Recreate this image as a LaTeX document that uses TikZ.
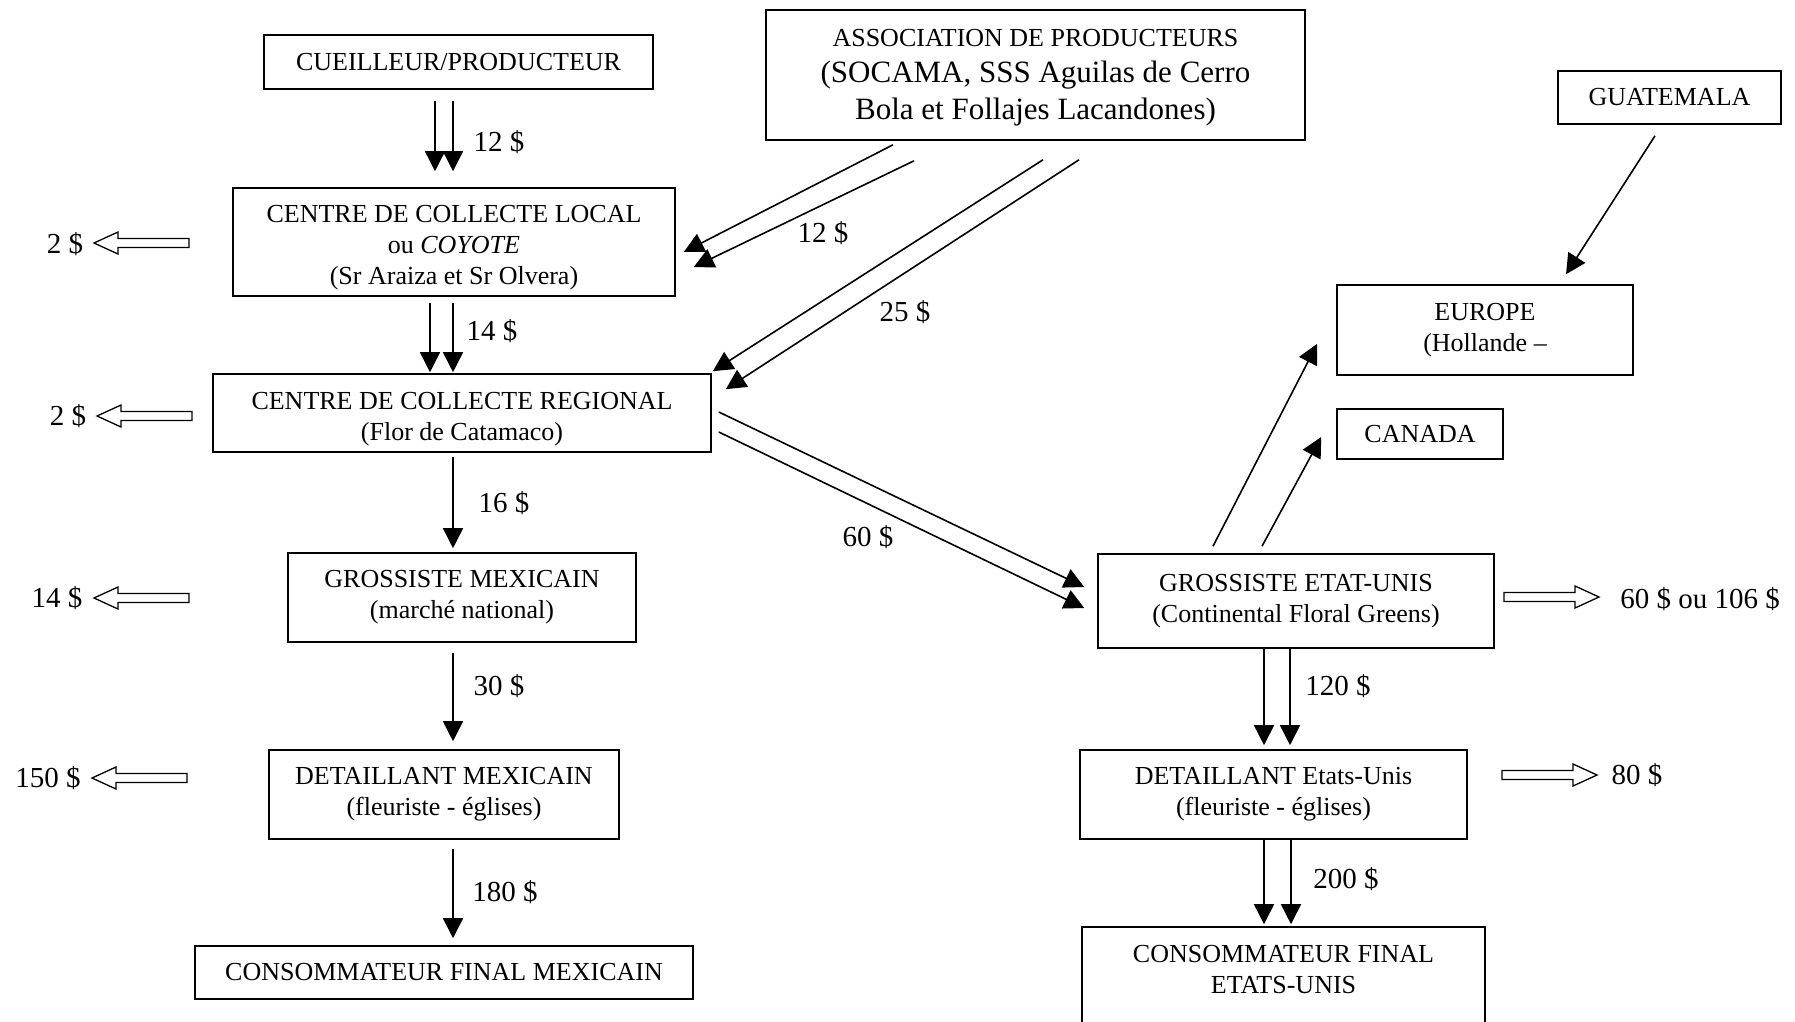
\documentclass[tikz,border=0pt]{standalone}
\usepackage{fontspec}
\setmainfont{Liberation Serif}
\usetikzlibrary{arrows.meta,calc}
\begin{document}
\begin{tikzpicture}[x=1pt,y=-1pt,
  box/.style={draw,line width=1.6pt,inner sep=0pt,align=center,font=\fontsize{26}{31}\selectfont},
  boxtext/.style={inner sep=0pt,align=center,font=\fontsize{26}{31}\selectfont},
  lab/.style={inner sep=0pt,font=\fontsize{29}{34}\selectfont},
  arr/.style={line width=1.6pt,-{Triangle[length=20pt,width=20pt]}},
  hollowL/.pic={\draw[line width=1.3pt,line join=miter] (0pt,-4.5pt) -- (-71pt,-4.5pt) -- (-71pt,-11pt) -- (-95pt,0pt) -- (-71pt,11pt) -- (-71pt,4.5pt) -- (0pt,4.5pt) -- cycle;},
  hollowR/.pic={\draw[line width=1.3pt,line join=miter] (0pt,-4.5pt) -- (71pt,-4.5pt) -- (71pt,-11pt) -- (95pt,0pt) -- (71pt,11pt) -- (71pt,4.5pt) -- (0pt,4.5pt) -- cycle;}
]
\useasboundingbox (0,0) rectangle (1795,1021);
% boxes
\node[box,minimum width=389pt,minimum height=54pt] (cueil) at (458.5,62) {CUEILLEUR/PRODUCTEUR};
\node[box,minimum width=442pt,minimum height=108pt] (local) at (454,242) {};
\node[boxtext] (localt) at (454,248) {CENTRE DE COLLECTE LOCAL\\ou \textit{COYOTE}\\(Sr Araiza et Sr Olvera)};
\node[box,minimum width=539pt,minimum height=130pt] (assoc) at (1035.5,75) {};
\node[boxtext] (assoct) at (1035.5,77.5) {ASSOCIATION DE PRODUCTEURS\\[5pt]\fontsize{31}{37}\selectfont (SOCAMA, SSS Aguilas de Cerro\\[6pt]\fontsize{31}{37}\selectfont Bola et Follajes Lacandones)};
\node[box,minimum width=498pt,minimum height=78pt] (reg) at (462,413) {};
\node[boxtext] (regt) at (462,419) {CENTRE DE COLLECTE REGIONAL\\(Flor de Catamaco)};
\node[box,minimum width=348pt,minimum height=89pt] (gmex) at (462,597.5) {GROSSISTE MEXICAIN\\(marché national)};
\node[box,minimum width=350pt,minimum height=89pt] (dmex) at (444,794.5) {DETAILLANT MEXICAIN\\(fleuriste - églises)};
\node[box,minimum width=498pt,minimum height=53pt] (cmex) at (444,972.5) {CONSOMMATEUR FINAL MEXICAIN};
\node[box,minimum width=396pt,minimum height=94pt] (gus) at (1296,601) {GROSSISTE ETAT-UNIS\\(Continental Floral Greens)};
\node[box,minimum width=387pt,minimum height=89pt] (dus) at (1273.5,794.5) {DETAILLANT Etats-Unis\\(fleuriste - églises)};
\node[box,minimum width=403pt,minimum height=108pt] (cus) at (1283.5,981) {};
\node[boxtext] (cust) at (1283.5,970) {CONSOMMATEUR FINAL\\ETATS-UNIS};
\node[box,minimum width=223pt,minimum height=53pt] (guat) at (1669.5,97.5) {GUATEMALA};
\node[box,minimum width=296pt,minimum height=90pt] (europe) at (1485,330) {EUROPE\\(Hollande –};
\node[box,minimum width=166pt,minimum height=50pt] (canada) at (1420,434) {CANADA};
% vertical arrows
\draw[arr] ($(cueil.south)+(-23.5,11)$) -- ($(cueil.south|-local.north)+(-23.5,-16)$);
\draw[arr] ($(cueil.south)+(-5.5,11)$) -- ($(cueil.south|-local.north)+(-5.5,-16)$);
\draw[arr] ($(local.south)+(-24,6)$) -- ($(local.south|-reg.north)+(-24,-1)$);
\draw[arr] ($(local.south)+(-1,6)$) -- ($(local.south|-reg.north)+(-1,-1)$);
\draw[arr] ($(reg.south)+(-9,4)$) -- ($(reg.south|-gmex.north)+(-9,-4)$);
\draw[arr] ($(gmex.south)+(-9,10)$) -- ($(gmex.south|-dmex.north)+(-9,-8)$);
\draw[arr] ($(dmex.south)+(9,9)$) -- ($(dmex.south|-cmex.north)+(9,-7)$);
\draw[arr] ($(gus.south)+(-32,0)$) -- ($(gus.south|-dus.north)+(-32,-4)$);
\draw[arr] ($(gus.south)+(-6,0)$) -- ($(gus.south|-dus.north)+(-6,-4)$);
\draw[arr] ($(dus.south)+(-9.5,0)$) -- ($(dus.south|-cus.north)+(-9.5,-2)$);
\draw[arr] ($(dus.south)+(17.5,0)$) -- ($(dus.south|-cus.north)+(17.5,-2)$);
% diagonal arrows
\draw[arr] ($(assoc.south)+(-142.5,4)$) -- ($(local.east)+(8,10)$);
\draw[arr] ($(assoc.south)+(-121.5,20)$) -- ($(local.east)+(18,25)$);
\draw[arr] ($(assoc.south)+(7.5,19)$) -- ($(reg.north east)+(1,-2)$);
\draw[arr] ($(assoc.south)+(43.5,19)$) -- ($(reg.north east)+(14,16)$);
\draw[arr] ($(reg.east)+(7,-1)$) -- ($(gus.west)+(-13,-14)$);
\draw[arr] ($(reg.east)+(7,19)$) -- ($(gus.west)+(-13,7)$);
\draw[arr] ($(gus.north)+(-83,-7)$) -- ($(europe.south west)+(-19,-32)$);
\draw[arr] ($(gus.north)+(-34,-7)$) -- ($(canada.west)+(-15,3)$);
\draw[arr] ($(guat.south)+(-14.5,11)$) -- ($(europe.north)+(81,-10)$);
% labels
\node[lab] (l1) at (499,142) {12 \$};
\node[lab] (l2) at (823,233) {12 \$};
\node[lab] (l3) at (905,312) {25 \$};
\node[lab] (l4) at (492,331) {14 \$};
\node[lab] (l5) at (504,503) {16 \$};
\node[lab] (l6) at (499,686) {30 \$};
\node[lab] (l7) at (505,892) {180 \$};
\node[lab] (l8) at (868,537) {60 \$};
\node[lab] (l9) at (1338,686) {120 \$};
\node[lab] (l10) at (1346,879) {200 \$};
\node[lab] (r1) at (1700,599) {60 \$ ou 106 \$};
\node[lab] (r2) at (1637,775) {80 \$};
\node[lab] (m1) at (65,244) {2 \$};
\node[lab] (m2) at (68,416) {2 \$};
\node[lab] (m3) at (57,598) {14 \$};
\node[lab] (m4) at (48,778) {150 \$};
% hollow arrows
\pic at (189,243) {hollowL};
\pic at (192,416) {hollowL};
\pic at (189,598) {hollowL};
\pic at (187,778) {hollowL};
\pic at (1504,597) {hollowR};
\pic at (1502,775) {hollowR};
\end{tikzpicture}
\end{document}
